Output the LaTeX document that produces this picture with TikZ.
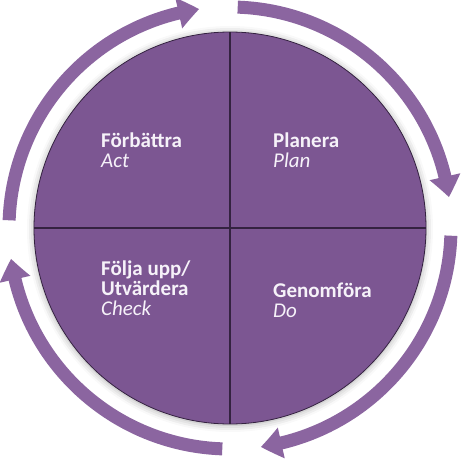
\documentclass[tikz,border=0pt]{standalone}
\usepackage{fontspec}
\setmainfont{Carlito}
\usetikzlibrary{arrows.meta,bending,shadows.blur}
\definecolor{cyclepurple}{RGB}{124,86,146}
\definecolor{arcpurple}{RGB}{139,101,160}
\definecolor{edgepurple}{RGB}{52,34,64}
\definecolor{textwhite}{RGB}{246,242,249}

\begin{document}
\begin{tikzpicture}[x=1pt,y=1pt,font=\fontsize{21}{20}\selectfont]
\useasboundingbox (-230,-239) rectangle (239,228);
% the disc
\draw[draw=edgepurple, fill=cyclepurple, line width=0.8pt, blur shadow={shadow xshift=0pt, shadow yshift=-1pt, shadow blur radius=7pt, shadow opacity=35}] (0,0) circle (196);
\draw[edgepurple, line width=1.2pt] (0,196) -- (0,-196);
\draw[edgepurple, line width=1.2pt] (-196,0) -- (196,0);
% cycle arrows
\foreach \a in {0,90,180,270}
  \draw[arcpurple, line width=13pt, -{Triangle[width=30pt,length=21pt,bend]}] (88-\a:221) arc[start angle=88-\a, end angle=8-\a, radius=221];
% quadrant texts (base = last line)
\node[text=textwhite, anchor=base west, inner sep=0pt, align=left] (act) at (-129,61) {\textbf{Förbättra}\\\textit{Act}};
\node[text=textwhite, anchor=base west, inner sep=0pt, align=left] (plan) at (43,61) {\textbf{Planera}\\\textit{Plan}};
\node[text=textwhite, anchor=base west, inner sep=0pt, align=left] (check) at (-129,-87) {\textbf{Följa upp/}\\\textbf{Utvärdera}\\\textit{Check}};
\node[text=textwhite, anchor=base west, inner sep=0pt, align=left] (do) at (43,-89) {\textbf{Genomföra}\\\textit{Do}};
\end{tikzpicture}
\end{document}
